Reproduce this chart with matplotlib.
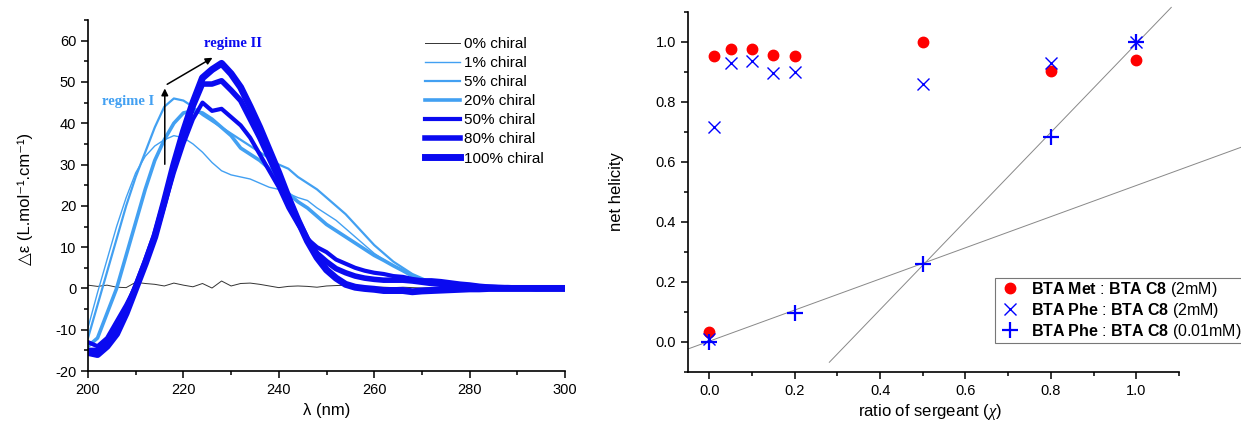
import numpy as np
import matplotlib
matplotlib.use("Agg")
import matplotlib.pyplot as plt
from matplotlib.ticker import MultipleLocator

plt.rcParams['font.family'] = ['Liberation Sans', 'DejaVu Sans']
plt.rcParams['mathtext.fontset'] = 'custom'
plt.rcParams['mathtext.rm'] = 'Liberation Sans'
plt.rcParams['mathtext.it'] = 'Liberation Serif:italic'
plt.rcParams['mathtext.bf'] = 'Liberation Sans:bold'

# ---- left panel: CD spectra ----
wavelength = list(range(200, 301, 2))

cd_0 = [0.8, 0.5, 0.8, 0.3, 0.2, 1.5, 1.2, 1.0, 0.6, 1.3, 0.8, 0.4, 1.2, 0.1, 1.8, 0.6,
        1.2, 1.3, 1.0, 0.6, 0.2, 0.5, 0.6, 0.5, 0.3, 0.6, 0.7, 0.8, 0.5, 0.4, 0.3, 0.3,
        0.2, 0.3, 0.2, 0.1, 0.2, 0.1, 0.1, 0.0, 0.1, 0.0, 0.0, 0.0, 0.0, 0.0, 0.0, 0.0,
        0.0, 0.0, 0.0]
cd_1 = [-9.5, -1, 7, 15, 22, 28, 32, 34.5, 36, 37, 36.5, 35, 33, 30.5, 28.5, 27.5,
        27, 26.5, 25.5, 24.5, 24, 23, 22, 21.3, 19.5, 18, 16.5, 14.5, 12.5, 10.5, 8.5, 7,
        5.5, 4.5, 3, 2, 1.5, 1, 0.8, 0.5, 0.3, 0.2, 0.2, 0.1, 0.0, 0.0, -0.1, -0.2,
        -0.3, -0.2, -0.2]
cd_5 = [-12, -4, 4, 12, 20, 27, 33, 39, 44, 46, 45.5, 44, 42, 40.5, 39, 37.5,
        36, 34.5, 33, 31.5, 30, 29, 27, 25.5, 24, 22, 20, 18, 15.5, 13, 10.5, 8.5,
        6.5, 5, 3.5, 2.5, 1.5, 1.2, 1, 0.5, 0.3, 0.3, 0.2, 0.1, 0.0, 0.0, -0.2, -0.5,
        -0.3, -0.2, -0.2]
cd_20 = [-14, -12, -6, 0, 8, 16, 24, 31, 36, 40, 42.5, 43, 42.5, 41, 39, 37,
         34, 32.5, 31, 29, 26.5, 23, 21, 19.5, 17.5, 15.5, 14, 12.5, 11, 9.5, 8, 6.8,
         5.5, 4.3, 3, 2, 1.5, 1, 0.8, 0.5, 0.3, 0.2, 0.2, 0.1, 0.0, 0.0, 0.0, -0.1,
         -0.1, 0.0, 0.0]
cd_50 = [-13, -14, -12, -8, -4, 0.5, 6, 12, 20, 28, 35, 41, 45, 43, 43.5, 41.5,
         39.5, 36.5, 32.5, 28.5, 24.5, 19.5, 15.5, 12, 10, 8.8, 7, 6, 5, 4.3, 3.8, 3.5,
         3, 2.8, 2.3, 2, 2, 1.8, 1.5, 1.2, 1, 0.7, 0.5, 0.4, 0.3, 0.2, 0.1, 0.1,
         0.0, 0.0, 0.0]
cd_80 = [-15, -15, -13, -10, -5, 0.5, 6.5, 13, 21, 29.5, 37, 44, 49.5, 49.5, 50.3, 48,
         45.5, 41, 36.5, 31.5, 26.5, 22, 16.5, 12, 8.5, 6.5, 4.8, 3.8, 3, 2.5, 2.2, 2,
         2, 2, 1.8, 1.5, 1.2, 1, 1, 0.8, 0.5, 0.4, 0.3, 0.2, 0.2, 0.1, 0.1, 0.0,
         0.0, 0.0, 0.0]
cd_100 = [-15.5, -16, -14, -11, -6, 0, 6, 12.5, 21, 30, 38, 45, 51, 53, 54.5, 52,
          48.7, 44, 39, 33.5, 28, 22, 16.5, 11.5, 7.5, 4.5, 2.5, 1, 0.3, 0, -0.2, -0.5,
          -0.5, -0.5, -0.8, -0.6, -0.5, -0.4, -0.3, -0.2, -0.1, -0.1, 0.0, 0.0, 0.0, 0.0, 0.0, 0.0,
          0.0, 0.0, 0.0]

cd_labels = ['0% chiral', '1% chiral', '5% chiral', '20% chiral',
             '50% chiral', '80% chiral', '100% chiral']
cd_series = [cd_0, cd_1, cd_5, cd_20, cd_50, cd_80, cd_100]
light = '#42a0f2'
dark = '#0a0af0'
cd_colors = ['#333333', light, light, light, dark, dark, dark]
cd_widths = [0.7, 1.0, 1.6, 2.6, 3.0, 4.0, 5.0]

# ---- right panel: net helicity ----
met_x = [0, 0.01, 0.05, 0.1, 0.15, 0.2, 0.5, 0.8, 1.0]
met_y = [0.032, 0.952, 0.978, 0.978, 0.955, 0.953, 1.0, 0.903, 0.941]
phe_x = [0, 0.01, 0.05, 0.1, 0.15, 0.2, 0.5, 0.8, 1.0]
phe_y = [0.011, 0.718, 0.93, 0.936, 0.897, 0.90, 0.86, 0.93, 1.0]
phe_dil_x = [0, 0.2, 0.5, 0.8, 1.0]
phe_dil_y = [0.0, 0.095, 0.261, 0.684, 1.0]

# guide lines: slope, intercept, x-range
fit_slope = [0.519, 1.477]
fit_intercept = [0.0024, -0.483]
fit_xrange = [(-0.05, 1.25), (0.281, 1.082)]

fig = plt.figure(figsize=(12.41, 4.26), dpi=100)

ax1 = fig.add_axes([0.0709, 0.129, 0.3844, 0.824])
for ys, lab, c, lw in zip(cd_series, cd_labels, cd_colors, cd_widths):
    ax1.plot(wavelength, ys, color=c, lw=lw, label=lab)
ax1.set_xlim(200, 300)
ax1.set_ylim(-20, 65)
ax1.xaxis.set_major_locator(MultipleLocator(20))
ax1.xaxis.set_minor_locator(MultipleLocator(10))
ax1.yaxis.set_major_locator(MultipleLocator(10))
ax1.yaxis.set_minor_locator(MultipleLocator(5))
ax1.set_xlabel('λ (nm)', fontsize=12)
ax1.set_ylabel('△ε (L.mol⁻¹.cm⁻¹)', fontsize=12)
ax1.xaxis.set_label_coords(0.5, -0.09)
ax1.yaxis.set_label_coords(-0.115, 0.49)
leg1 = ax1.legend(loc='upper right', bbox_to_anchor=(0.985, 0.99), frameon=False,
                  fontsize=11, handlelength=2.3, handletextpad=0.3, labelspacing=0.33)

ax1.text(208.4, 45.3, 'regime I', color=light, fontsize=10.5, fontweight='bold',
         family='Liberation Serif', ha='center', va='center')
ax1.text(230.4, 59.3, 'regime II', color=dark, fontsize=10.5, fontweight='bold',
         family='Liberation Serif', ha='center', va='center')
ax1.annotate('', xy=(216.1, 49.1), xytext=(216.1, 29.4),
             arrowprops=dict(arrowstyle='-|>', color='black', lw=1.1, mutation_scale=10))
ax1.annotate('', xy=(226.6, 56.2), xytext=(216.1, 49.1),
             arrowprops=dict(arrowstyle='-|>', color='black', lw=1.1, mutation_scale=10))

ax2 = fig.add_axes([0.5544, 0.127, 0.3956, 0.845])
for s, b, (x0, x1) in zip(fit_slope, fit_intercept, fit_xrange):
    xx = np.array([x0, x1])
    ax2.plot(xx, s * xx + b, color='#888888', lw=0.7, clip_on=False)
ax2.plot(met_x, met_y, 'o', color='#ff0000', ms=7.5, mec='#ff0000',
         label=r'$\mathbf{BTA\ Met}$ : $\mathbf{BTA\ C8}$ (2mM)')
ax2.plot(phe_x, phe_y, 'x', color='#0000ff', ms=8, mew=1.0,
         label=r'$\mathbf{BTA\ Phe}$ : $\mathbf{BTA\ C8}$ (2mM)')
ax2.plot(phe_dil_x, phe_dil_y, '+', color='#0000ff', ms=11, mew=1.6,
         label=r'$\mathbf{BTA\ Phe}$ : $\mathbf{BTA\ C8}$ (0.01mM)')
ax2.set_xlim(-0.05, 1.1)
ax2.set_ylim(-0.1, 1.1)
ax2.xaxis.set_major_locator(MultipleLocator(0.2))
ax2.xaxis.set_minor_locator(MultipleLocator(0.1))
ax2.yaxis.set_major_locator(MultipleLocator(0.2))
ax2.yaxis.set_minor_locator(MultipleLocator(0.1))
ax2.set_xlabel(r'ratio of sergeant ($\chi$)', fontsize=12)
ax2.set_ylabel('net helicity', fontsize=12)
ax2.xaxis.set_label_coords(0.493, -0.083)
ax2.yaxis.set_label_coords(-0.13, 0.5)
leg2 = ax2.legend(loc='upper left', bbox_to_anchor=(0.625, 0.262), fontsize=11.5,
                  fancybox=False, edgecolor='#777777', framealpha=1,
                  handletextpad=0.5, labelspacing=0.12, borderpad=0.15,
                  handlelength=1.6, borderaxespad=0)
leg2.get_frame().set_linewidth(0.8)

for ax in (ax1, ax2):
    for side in ('top', 'right'):
        ax.spines[side].set_visible(False)
    for side in ('left', 'bottom'):
        ax.spines[side].set_linewidth(1.2)
    ax.tick_params(which='major', direction='out', length=5, width=1.1, labelsize=10.5)
    ax.tick_params(which='minor', direction='out', length=3, width=1.1)
    ax.yaxis.set_major_formatter(plt.FuncFormatter(
        (lambda v, p: f'{v:.0f}') if ax is ax1 else (lambda v, p: f'{v:.1f}')))

ax2.xaxis.set_major_formatter(plt.FuncFormatter(lambda v, p: f'{v:.1f}'))

fig.savefig('out.png', dpi=100)
